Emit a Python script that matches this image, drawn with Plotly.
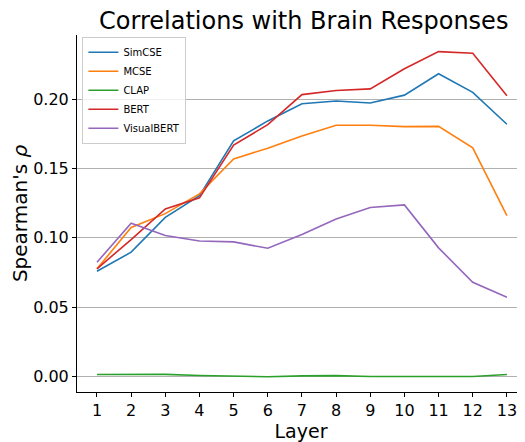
import plotly.graph_objects as go

layers = list(range(1, 14))
simcse = [0.0759, 0.0897, 0.1148, 0.1305, 0.1700, 0.1844, 0.1968, 0.1988, 0.1973, 0.2030, 0.2184, 0.2050, 0.1820]
mcse = [0.0777, 0.1075, 0.1175, 0.1318, 0.1570, 0.1647, 0.1736, 0.1813, 0.1813, 0.1803, 0.1805, 0.1650, 0.1160]
clap = [0.0014, 0.0017, 0.0015, 0.0007, 0.0005, -0.0002, 0.0004, 0.0006, 0.0000, 0.0000, -0.0002, 0.0000, 0.0014]
bert = [0.0777, 0.0988, 0.1209, 0.1289, 0.1670, 0.1817, 0.2034, 0.2063, 0.2075, 0.2220, 0.2344, 0.2332, 0.2025]
visualbert = [0.0824, 0.1106, 0.1017, 0.0978, 0.0971, 0.0925, 0.1025, 0.1137, 0.1219, 0.1238, 0.0928, 0.0680, 0.0572]

series = [
    ("SimCSE", simcse, "#1f77b4"),
    ("MCSE", mcse, "#ff7f0e"),
    ("CLAP", clap, "#2ca02c"),
    ("BERT", bert, "#d62728"),
    ("VisualBERT", visualbert, "#9467bd"),
]

fig = go.Figure()
for name, vals, color in series:
    fig.add_trace(go.Scatter(x=layers, y=vals, mode="lines", name=name,
                             line=dict(color=color, width=1.6)))

font = "DejaVu Sans, sans-serif"
# the page body has an 8px margin, so the figure is sized/offset to compensate
fig.update_layout(
    width=517, height=434,
    margin=dict(l=69, r=0, t=27, b=50),
    paper_bgcolor="white", plot_bgcolor="white",
    font=dict(family=font, color="black"),
    title=dict(text="Correlations with Brain Responses", x=0.572, xanchor="center",
               y=0.972, yanchor="middle", font=dict(size=24, family=font, color="black")),
    legend=dict(x=0.012, y=0.995, xanchor="left", yanchor="top",
                bgcolor="rgba(255,255,255,0.8)", bordercolor="#cccccc", borderwidth=1,
                font=dict(size=10, family=font), tracegroupgap=0, itemwidth=30),
    showlegend=True,
)
fig.update_xaxes(range=[0.415, 13.53], tickmode="array", tickvals=layers,
                 ticktext=[str(v) for v in layers], showgrid=False, zeroline=False,
                 showline=True, linecolor="black", linewidth=1, ticks="outside",
                 ticklen=4, tickcolor="black", tickfont=dict(size=16),
                 title=dict(text="Layer", font=dict(size=19), standoff=7))
fig.update_yaxes(range=[-0.0112, 0.2464], tickmode="array",
                 tickvals=[0, 0.05, 0.10, 0.15, 0.20],
                 ticktext=["0.00", "0.05", "0.10", "0.15", "0.20"],
                 showgrid=True, gridcolor="#b0b0b0", gridwidth=1, zeroline=False,
                 showline=True, linecolor="black", linewidth=1, ticks="outside",
                 ticklen=4, tickcolor="black", tickfont=dict(size=16),
                 title=dict(text="Spearman's <i>ρ</i>", font=dict(size=20), standoff=10))

fig.write_html("out.html")
